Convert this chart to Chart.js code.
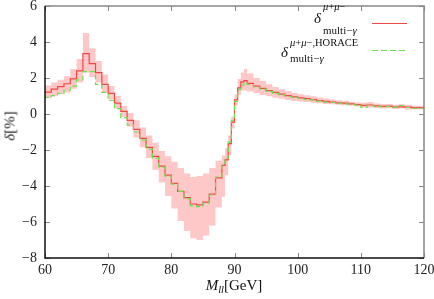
<!DOCTYPE html>
<html>
<head>
<meta charset="utf-8">
<script src="https://cdn.jsdelivr.net/npm/chart.js@4.4.1/dist/chart.umd.min.js"></script>
<style>
  body { margin: 0; background: #fff; }
  #wrap { position: relative; width: 434px; height: 299px; font-family: "Liberation Serif", "DejaVu Serif", serif; color: #111; }
  #c { position: absolute; left: 0; top: 0; }
  .t { position: absolute; white-space: nowrap; line-height: 1; }
  .it { font-style: italic; }
</style>
</head>
<body>
<div id="wrap">
  <canvas id="c" width="434" height="299"></canvas>

  <!-- legend -->
  <div class="t it" style="left:314px;top:11px;font-size:15px;">δ</div>
  <div class="t it" style="left:323px;top:2px;font-size:10.5px;">μ<span style="font-style:normal">+</span>μ<span style="font-style:normal">−</span></div>
  <div class="t" style="left:323px;top:25px;font-size:11px;">multi−<i>γ</i></div>

  <div class="t it" style="left:281px;top:45px;font-size:15px;">δ</div>
  <div class="t it" style="left:290px;top:38px;font-size:10.5px;">μ<span style="font-style:normal">+</span>μ<span style="font-style:normal">−,HORACE</span></div>
  <div class="t" style="left:290px;top:53px;font-size:11px;">multi−<i>γ</i></div>

  <!-- axis titles -->
  <div class="t" style="left:234px;top:278px;font-size:15px;transform:translateX(-50%);"><i>M</i><i style="font-size:10.5px;position:relative;top:3px;">ll</i>[GeV]</div>
  <div class="t" style="left:10px;top:126px;font-size:15px;transform:translate(-50%,-50%) rotate(-90deg);"><i>δ</i>[%]</div>
</div>

<script>
// bin edges in GeV (finer around the Z peak, last one closes the histogram)
const binEdges = [60, 61, 62, 63, 64, 65, 66, 67, 68, 69, 70, 71, 72, 73, 74, 75, 76, 77, 78, 79,
                  80, 81, 82, 83, 84, 85, 86, 87, 88, 88.5, 89, 89.5, 90, 90.5, 91, 91.5,
                  92, 93, 94, 95, 96, 97, 98, 99, 100, 101, 102, 103, 104, 105, 106, 107, 108, 109,
                  110, 111, 112, 113, 114, 115, 116, 117, 118, 119, 120];

// delta multi-gamma, mu+mu- (%)
const deltaMuMu = [1.10, 1.22, 1.38, 1.52, 1.68, 1.95, 2.40, 3.35, 2.80, 2.30,
                   1.65, 1.15, 0.60, 0.15, -0.35, -0.85, -1.35, -1.85, -2.35, -2.90,
                   -3.40, -3.85, -4.30, -4.65, -5.00, -5.05, -4.90, -4.45,
                   -3.55, -2.85, -2.55, -1.65, -0.45, 0.78, 1.45, 1.78,
                   1.85, 1.70, 1.55, 1.42, 1.30, 1.20, 1.10, 1.02,
                   0.95, 0.90, 0.85, 0.80, 0.75, 0.70, 0.66, 0.62, 0.60, 0.56,
                   0.52, 0.48, 0.50, 0.45, 0.42, 0.44, 0.40, 0.40, 0.38, 0.35];

// same, HORACE
const deltaHorace = [0.85, 0.92, 1.02, 1.15, 1.32, 1.55, 1.90, 2.35, 2.35, 1.65,
                     1.20, 0.75, 0.30, -0.20, -0.60, -1.00, -1.45, -1.95, -2.45, -2.95,
                     -3.45, -3.90, -4.30, -4.70, -5.10, -5.15, -4.95, -4.50,
                     -3.50, -2.75, -2.45, -1.55, -0.35, 0.70, 1.35, 1.60,
                     1.75, 1.65, 1.50, 1.38, 1.26, 1.15, 1.06, 0.98,
                     0.92, 0.86, 0.80, 0.78, 0.72, 0.66, 0.64, 0.60, 0.56, 0.54,
                     0.50, 0.36, 0.50, 0.42, 0.40, 0.42, 0.38, 0.46, 0.36, 0.32];

// uncertainty band of the mu+mu- result
const bandLow = [0.80, 0.88, 0.98, 1.10, 1.20, 1.40, 1.75, 2.30, 2.05, 1.75,
                 1.20, 0.80, 0.30, -0.15, -0.70, -1.30, -1.85, -2.45, -3.10, -3.80,
                 -4.55, -5.25, -5.95, -6.50, -6.90, -7.00, -6.75, -6.20,
                 -5.20, -4.60, -3.40, -2.30, -0.80, 0.45, 1.05, 1.30,
                 1.30, 1.25, 1.15, 1.05, 0.98, 0.90, 0.85, 0.78,
                 0.72, 0.70, 0.66, 0.62, 0.60, 0.56, 0.54, 0.52, 0.48, 0.46,
                 0.42, 0.36, 0.36, 0.32, 0.30, 0.32, 0.28, 0.30, 0.24, 0.26];
const bandHigh = [1.45, 1.58, 1.75, 1.90, 2.10, 2.50, 3.05, 4.50, 3.65, 2.95,
                  2.20, 1.55, 1.00, 0.45, 0.05, -0.35, -0.75, -1.20, -1.60, -2.05,
                  -2.35, -2.65, -3.00, -3.30, -3.50, -3.45, -3.30, -3.00,
                  -2.60, -2.30, -1.90, -1.20, -0.15, 1.10, 1.95, 2.30,
                  2.50, 2.25, 2.00, 1.85, 1.65, 1.50, 1.38, 1.28,
                  1.18, 1.10, 1.04, 0.98, 0.92, 0.86, 0.80, 0.76, 0.74, 0.68,
                  0.64, 0.62, 0.66, 0.58, 0.56, 0.56, 0.52, 0.54, 0.52, 0.46];

const xTicks = [60, 70, 80, 90, 100, 110, 120];
const yTicks = [-8, -6, -4, -2, 0, 2, 4, 6];

// histogram -> points at bin edges, last value repeated at the closing edge
function toSteps(vals) {
    return binEdges.map((x, i) => ({ x: x, y: vals[Math.min(i, vals.length - 1)] }));
}

const frame = {
    id: 'frame',
    afterDraw(chart) {
        const { ctx, chartArea: a, scales: { x, y } } = chart;
        ctx.save();
        ctx.strokeStyle = '#888';
        ctx.lineWidth = 1;
        ctx.beginPath();
        xTicks.forEach(v => {
            const px = Math.round(x.getPixelForValue(v)) + 0.5;
            ctx.moveTo(px, a.bottom); ctx.lineTo(px, a.bottom - 5);
            ctx.moveTo(px, a.top); ctx.lineTo(px, a.top + 5);
        });
        yTicks.forEach(v => {
            const py = Math.round(y.getPixelForValue(v)) + 0.5;
            ctx.moveTo(a.left, py); ctx.lineTo(a.left + 5, py);
            ctx.moveTo(a.right, py); ctx.lineTo(a.right - 5, py);
        });
        ctx.stroke();
        ctx.lineWidth = 1.5;
        ctx.beginPath();
        ctx.moveTo(a.left, a.top); ctx.lineTo(a.right, a.top); ctx.lineTo(a.right, a.bottom);
        ctx.stroke();
        ctx.strokeStyle = '#111';
        ctx.beginPath();
        ctx.moveTo(a.left, a.top); ctx.lineTo(a.left, a.bottom); ctx.lineTo(a.right, a.bottom);
        ctx.stroke();
        // legend samples
        ctx.lineWidth = 1.2;
        ctx.strokeStyle = 'rgb(245,70,70)';
        ctx.beginPath(); ctx.moveTo(372, 23.5); ctx.lineTo(407, 23.5); ctx.stroke();
        ctx.strokeStyle = 'rgb(110,225,80)';
        ctx.setLineDash([6, 3]);
        ctx.beginPath(); ctx.moveTo(372, 50.5); ctx.lineTo(407, 50.5); ctx.stroke();
        ctx.restore();
    }
};

const tickFont = { family: 'Liberation Serif', size: 14, lineHeight: 1 };

new Chart(document.getElementById('c'), {
    type: 'line',
    data: {
        datasets: [
            { data: toSteps(bandLow), stepped: 'after', borderWidth: 0, pointRadius: 0, fill: false, order: 3 },
            { data: toSteps(bandHigh), stepped: 'after', borderWidth: 0, pointRadius: 0,
              fill: '-1', backgroundColor: 'rgb(255,200,200)', order: 3 },
            { data: toSteps(deltaMuMu), stepped: 'after', borderColor: 'rgb(245,70,70)', borderWidth: 1.2,
              pointRadius: 0, fill: false, order: 2 },
            { data: toSteps(deltaHorace), stepped: 'after', borderColor: 'rgb(110,225,80)', borderWidth: 1.2,
              borderDash: [5, 3], pointRadius: 0, fill: false, order: 1 }
        ]
    },
    options: {
        responsive: false,
        animation: false,
        layout: { padding: { top: 6, right: 10, left: 0, bottom: 0 } },
        plugins: { legend: { display: false }, tooltip: { enabled: false } },
        scales: {
            x: {
                type: 'linear', min: 60, max: 120,
                grid: { display: false, drawTicks: false },
                border: { display: false },
                afterBuildTicks: s => { s.ticks = xTicks.map(v => ({ value: v })); },
                afterFit: s => { s.height = 41; s.paddingLeft = 0; s.paddingRight = 0; },
                ticks: { font: tickFont, color: '#222', padding: 5, maxRotation: 0 }
            },
            y: {
                min: -8, max: 6,
                grid: { display: false, drawTicks: false },
                border: { display: false },
                afterBuildTicks: s => { s.ticks = yTicks.map(v => ({ value: v })); },
                afterFit: s => { s.width = 45; s.paddingTop = 0; s.paddingBottom = 0; },
                ticks: { font: tickFont, color: '#222', padding: 8,
                         callback: v => String(v).replace('-', '\u2212') }
            }
        }
    },
    plugins: [frame]
});
</script>
</body>
</html>
